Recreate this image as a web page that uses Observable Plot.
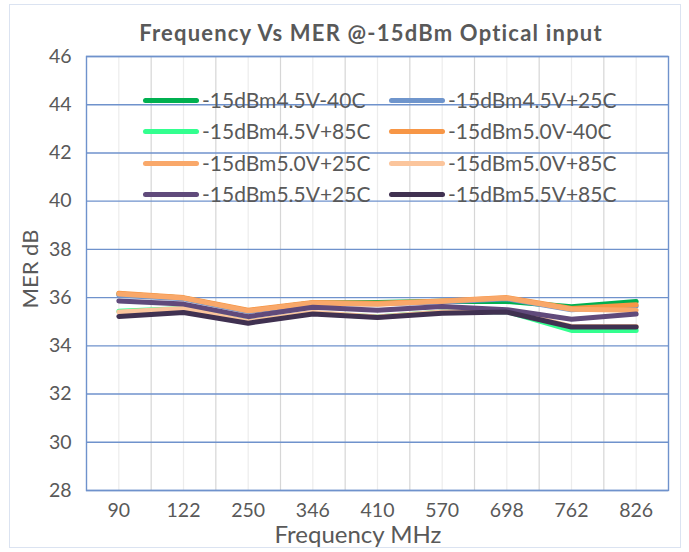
<!DOCTYPE html>
<html><head><meta charset="utf-8">
<script src="https://cdn.jsdelivr.net/npm/d3@7"></script>
<script src="https://cdn.jsdelivr.net/npm/@observablehq/plot@0.6"></script>
<style>
body{margin:0;background:#fff;}
#wrap{position:relative;width:689px;height:552px;font-family:Lato,"Open Sans",sans-serif;color:#595959;overflow:hidden;}
#border{position:absolute;left:9px;top:4px;width:672px;height:544px;border:1px solid #dbe3f1;box-sizing:border-box;}
#title{position:absolute;left:0;width:742px;top:22px;line-height:22px;text-align:center;font-weight:bold;font-size:22px;letter-spacing:1.2px;}
#ylab{position:absolute;left:30px;top:269px;transform:translate(-50%,-50%) rotate(-90deg);font-size:22px;line-height:22px;white-space:nowrap;}
#xlab{position:absolute;left:0;width:716px;top:525px;line-height:18px;text-align:center;font-size:24px;}
.lg{position:absolute;display:flex;align-items:center;font-size:21px;line-height:22px;white-space:nowrap;}
.sw{width:56px;height:5px;border-radius:3px;margin-right:3px;}
svg{position:absolute;left:0;top:0;}
</style></head>
<body><div id="wrap"></div>
<script>
const frequencies = ["90","122","250","346","410","570","698","762","826"];
const seriesNames = ["-15dBm4.5V-40C","-15dBm4.5V+25C","-15dBm4.5V+85C","-15dBm5.0V-40C","-15dBm5.0V+25C","-15dBm5.0V+85C","-15dBm5.5V+25C","-15dBm5.5V+85C"];
const seriesColors = ["#00b050","#6f95cc","#33ff8f","#f79646","#f9a86a","#fbc59c","#604a7b","#403151"];
const mer45m40 = [36.15,35.98,35.45,35.78,35.80,35.85,35.84,35.62,35.84];
const mer45p25 = [36.10,35.95,35.42,35.75,35.75,35.82,35.95,35.50,35.65];
const mer45p85 = [35.43,35.55,35.00,35.35,35.20,35.40,35.42,34.64,34.64];
const mer50m40 = [36.18,36.00,35.48,35.80,35.77,35.86,36.00,35.55,35.70];
const mer50p25 = [36.15,35.98,35.45,35.78,35.72,35.85,35.98,35.52,35.48];
const mer50p85 = [35.40,35.55,35.00,35.38,35.20,35.40,35.45,34.80,34.80];
const mer55p25 = [35.86,35.73,35.21,35.60,35.48,35.63,35.50,35.10,35.32];
const mer55p85 = [35.22,35.38,34.94,35.32,35.18,35.35,35.40,34.78,34.78];
const yTicks = [28,30,32,34,36,38,40,42,44,46];

const allSeries = [mer45m40,mer45p25,mer45p85,mer50m40,mer50p25,mer50p85,mer55p25,mer55p85];
const rows = [];
allSeries.forEach((vals, s) => vals.forEach((v, i) => rows.push({series: seriesNames[s], idx: i, mer: v})));
const idx = frequencies.map((_, i) => i);
const bounds = frequencies.slice(0, -1).map((_, i) => i + 0.5);

const chart = Plot.plot({
  width: 689, height: 552,
  marginLeft: 86, marginRight: 21, marginTop: 56, marginBottom: 62,
  style: {fontFamily: "Lato, 'Open Sans', sans-serif", fontSize: "19.5px", color: "#595959", background: "transparent"},
  x: {domain: [-0.5, frequencies.length - 0.5]},
  y: {domain: [28, 46]},
  color: {domain: seriesNames, range: seriesColors},
  marks: [
    Plot.ruleX(idx, {stroke: "#ececec", strokeWidth: 1.2}),
    Plot.ruleX(bounds, {stroke: "#d6d6d6", strokeWidth: 1.2}),
    Plot.ruleY(yTicks, {stroke: "#6f92cc", strokeWidth: 1.4}),
    Plot.frame({stroke: "#6f92cc", strokeWidth: 1.4}),
    Plot.axisX(idx, {tickFormat: i => frequencies[i], tickSize: 0, tickPadding: 13, label: null, fill: "#595959", fontSize: 19.5}),
    Plot.axisY(yTicks, {tickSize: 0, tickPadding: 15, label: null, fill: "#595959", fontSize: 19.5}),
    Plot.line(rows, {x: "idx", y: "mer", z: "series", stroke: "series", strokeWidth: 5, strokeLinecap: "round", strokeLinejoin: "round"})
  ]
});

const wrap = document.getElementById("wrap");
wrap.innerHTML = '<div id="border"></div>';
wrap.appendChild(chart);
const t = document.createElement("div"); t.id = "title"; t.textContent = "Frequency Vs MER @-15dBm Optical input"; wrap.appendChild(t);
const yl = document.createElement("div"); yl.id = "ylab"; yl.textContent = "MER dB"; wrap.appendChild(yl);
const xl = document.createElement("div"); xl.id = "xlab"; xl.textContent = "Frequency MHz"; wrap.appendChild(xl);
const colX = [143, 389], rowY = [89, 120, 152, 183];
seriesNames.forEach((n, k) => {
  const d = document.createElement("div"); d.className = "lg";
  d.style.left = colX[k % 2] + "px"; d.style.top = rowY[Math.floor(k / 2)] + "px";
  d.innerHTML = '<span class="sw" style="background:' + seriesColors[k] + '"></span><span>' + n + '</span>';
  wrap.appendChild(d);
});
</script></body></html>
